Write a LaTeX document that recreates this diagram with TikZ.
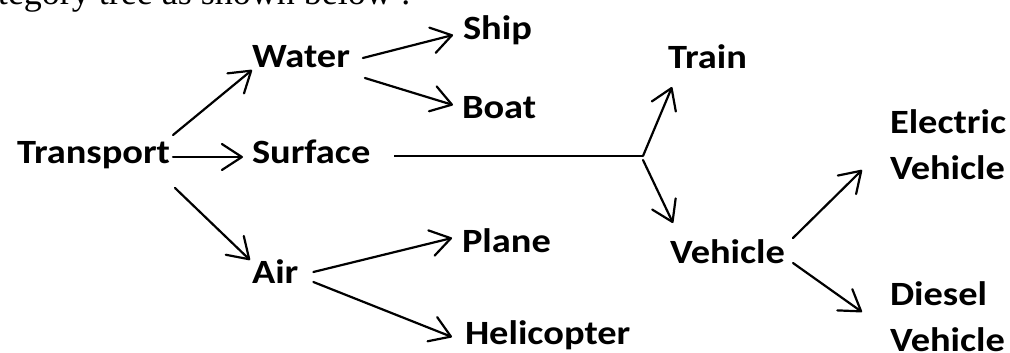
\documentclass[tikz,border=0pt]{standalone}
\usepackage{fontspec}
\setmainfont{Liberation Serif}
\newfontfamily\introfont{Liberation Serif}
\newfontfamily\lblfont[FakeStretch=1.13]{Carlito}
\usetikzlibrary{arrows.meta}

\begin{document}
\begin{tikzpicture}[x=1pt,y=-1pt,
  lbl/.style={font=\lblfont\bfseries\fontsize{34}{46}\selectfont,
    inner sep=0pt, outer sep=0pt, anchor=base west, text=black},
  link/.style={line width=2.2pt, line cap=round,
    -{Straight Barb[length=20pt,width=26pt,line cap=round,line join=round]}},
  trunk/.style={line width=1.8pt}]
\useasboundingbox (0,0) rectangle (1010,353);

% running text line above the tree
\node[font=\introfont\fontsize{36}{40}\selectfont, inner sep=0pt, outer sep=0pt,
  anchor=base west] (intro) at (-2,5) {tegory tree as shown below :};

% tree labels
\node[lbl] (transport) at (17,163) {Transport};
\node[lbl] (water)     at (252,68)  {Water};
\node[lbl] (surface)   at (252,163) {Surface};
\node[lbl] (air)       at (252,283) {Air};
\node[lbl] (ship)      at (463,40)  {Ship};
\node[lbl] (boat)      at (462,118) {Boat};
\node[lbl] (plane)     at (462,252) {Plane};
\node[lbl] (heli)      at (465,344) {Helicopter};
\node[lbl] (train)     at (668,69)  {Train};
\node[lbl] (vehicle)   at (670,263) {Vehicle};
% two-line labels: the base anchor sits on the last line
\node[lbl, align=left] (electric) at (890,179) {Electric\\Vehicle};
\node[lbl, align=left] (diesel)   at (890,351) {Diesel\\Vehicle};
\coordinate (fork) at (643,156);

% first level
\draw[link] ([shift={(3,-28)}]transport.base east) -- ([shift={(0,2)}]water.base west);
\draw[link] ([shift={(3,-6)}]transport.base east) -- ([shift={(-9,-6)}]surface.base west);
\draw[link] ([shift={(5,25)}]transport.base east) -- ([shift={(-2,-23)}]air.base west);

% water
\draw[link] ([shift={(13,-10)}]water.base east) -- ([shift={(-10,-5)}]ship.base west);
\draw[link] ([shift={(15,10)}]water.base east) -- ([shift={(-9,-13)}]boat.base west);

% surface
\draw[trunk] ([shift={(24,-7)}]surface.base east) -- (fork);
\draw[link] (fork) -- ([shift={(4,18)}]train.base west);
\draw[link] ([shift={(0,4)}]fork) -- ([shift={(3,-40)}]vehicle.base west);
\draw[link] ([shift={(8,-25)}]vehicle.base east) -- ([shift={(-28,-9)}]electric.base west);
\draw[link] ([shift={(8,0)}]vehicle.base east) -- ([shift={(-28,-39)}]diesel.base west);

% air
\draw[link] ([shift={(15,-11)}]air.base east) -- ([shift={(-10,-14)}]plane.base west);
\draw[link] ([shift={(15,-1)}]air.base east) -- ([shift={(-13,-7)}]heli.base west);
\end{tikzpicture}
\end{document}
